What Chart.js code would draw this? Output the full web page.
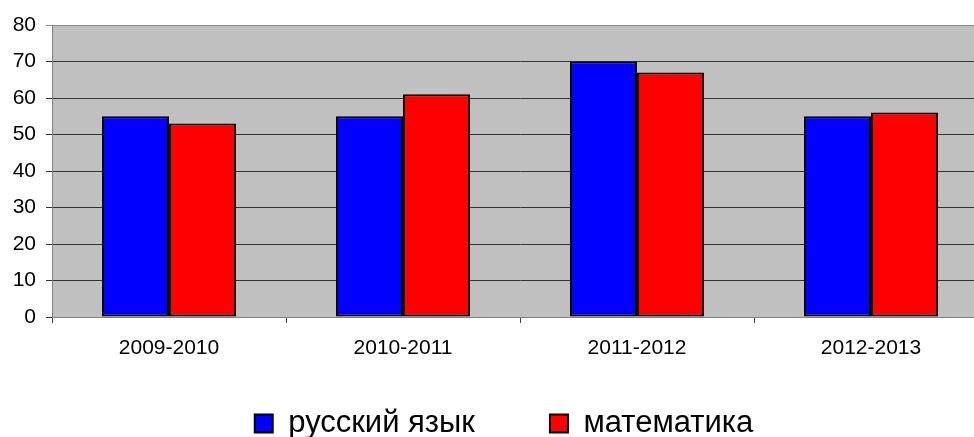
<!DOCTYPE html>
<html>
<head>
<meta charset="utf-8">
<script src="https://cdn.jsdelivr.net/npm/chart.js@4"></script>
<style>
  html, body { margin: 0; padding: 0; background: #fff; overflow: hidden; }
  #wrap { width: 974px; height: 437px; overflow: hidden; }
  canvas { display: block; }
</style>
</head>
<body>
<div id="wrap"><canvas id="c" width="990" height="437" style="width:990px;height:437px"></canvas></div>
<script>
const categories = ['2009-2010', '2010-2011', '2011-2012', '2012-2013'];
const russianValues = [55, 55, 70, 55];
const mathValues = [53, 61, 67, 56];
const seriesNames = ['русский язык', 'математика'];
const yTicks = [0, 10, 20, 30, 40, 50, 60, 70, 80];

const FONT = '"Liberation Sans", Arial, sans-serif';

const plotBg = {
  id: 'plotBg',
  beforeDraw(chart) {
    const {ctx, chartArea: a} = chart;
    ctx.save();
    ctx.fillStyle = '#c0c0c0';
    ctx.fillRect(a.left, a.top, a.right - a.left, a.bottom - a.top);
    ctx.restore();
  }
};

// place the legend row lower, below the category labels, as in the reference
const legendPlace = {
  id: 'legendPlace',
  afterLayout(chart) {
    const lg = chart.legend;
    if (!lg) return;
    lg.left = 20;
    lg.top = 333;
    lg.bottom = chart.height;
    lg.height = lg.bottom - lg.top;
  }
};

new Chart(document.getElementById('c'), {
  type: 'bar',
  data: {
    labels: categories,
    datasets: [
      { label: seriesNames[0], data: russianValues, backgroundColor: '#0000ff', borderColor: '#000000', borderWidth: 2, borderSkipped: false },
      { label: seriesNames[1], data: mathValues, backgroundColor: '#ff0000', borderColor: '#000000', borderWidth: 2, borderSkipped: false }
    ]
  },
  options: {
    responsive: false,
    animation: false,
    devicePixelRatio: 1,
    layout: { padding: { left: 0, right: 2, top: 25, bottom: 0 } },
    datasets: { bar: { categoryPercentage: 0.573, barPercentage: 1.0 } },
    scales: {
      x: {
        offset: true,
        afterFit(scale) { scale.height = 42; },
        grid: { offset: true, drawOnChartArea: false, drawTicks: true, tickLength: 6, color: '#444', lineWidth: 1 },
        border: { display: true, color: '#808080', width: 1 },
        ticks: { color: '#000', padding: 13, font: { family: FONT, size: 21 }, maxRotation: 0, autoSkip: false }
      },
      y: {
        min: 0, max: 80,
        afterFit(scale) { scale.width = 52; },
        afterBuildTicks(scale) { scale.ticks = yTicks.map(v => ({ value: v })); },
        grid: {
          color: ctx => (ctx.tick && ctx.tick.value === 80) ? '#8a8a8a' : '#333333',
          lineWidth: 1, drawTicks: true, tickLength: 6
        },
        border: { display: true, color: '#808080', width: 1 },
        ticks: { color: '#000', padding: 10, font: { family: FONT, size: 21 }, stepSize: 10 }
      }
    },
    plugins: {
      tooltip: { enabled: false },
      legend: {
        display: true,
        position: 'bottom',
        maxHeight: 78,
        labels: {
          color: '#000',
          font: { family: FONT, size: 31 },
          boxWidth: 18,
          boxHeight: 18,
          padding: 75
        }
      }
    }
  },
  plugins: [plotBg, legendPlace]
});
</script>
</body>
</html>
